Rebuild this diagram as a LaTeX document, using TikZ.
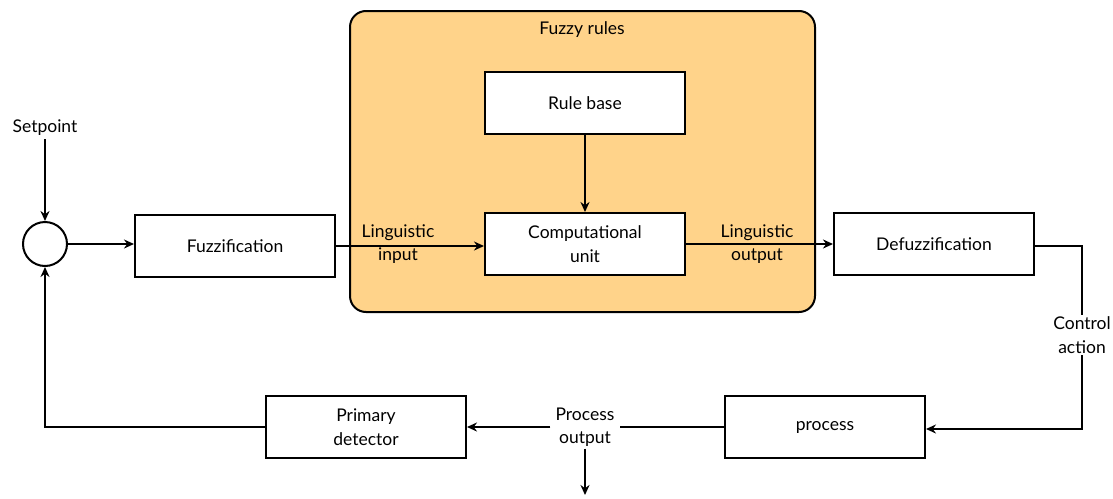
\documentclass[tikz,border=0pt]{standalone}
\usepackage{fontspec}
\setmainfont{Lato}
\usetikzlibrary{arrows.meta}
\definecolor{rulesfill}{HTML}{FFD38A}

\begin{document}
\begin{tikzpicture}[x=1pt,y=-1pt,
  every node/.style={font=\fontsize{17.5}{23.5}\selectfont, align=center},
  block/.style={draw, line width=2pt, fill=white, minimum width=200pt, minimum height=62pt, inner sep=0pt},
  conn/.style={line width=2pt, -{Stealth[length=10pt,width=9pt]}},
  wire/.style={line width=2pt},
  gaplabel/.style={fill=white, inner xsep=5pt, inner ysep=2pt}
]
\useasboundingbox (0,0) rectangle (1113,498);

% fuzzy rules container
\node[draw, line width=2pt, fill=rulesfill, rounded corners=16pt,
      minimum width=465pt, minimum height=301pt, inner sep=0pt] (rules) at (582.5,161.5) {};
\node (rulestitle) at (582,30) {Fuzzy rules};

% blocks
\node[circle, draw, line width=2pt, minimum size=44pt, inner sep=0pt] (sum) at (45,244) {};
\node[block] (fuzz) at (235,246) {Fuzzification};
\node[block] (rb) at (585,103) {Rule base};
\node[block] (cu) at (585,244) {Computational\\unit};
\node[block] (defuzz) at (934,244) {Defuzzification};
\node[block] (pd) at (366,427) {Primary\\detector};
\node[block] (proc) at (825,427) {process};

% free labels
\node (sp) at (45,128) {Setpoint};
\node (lin) at (398,244) {Linguistic\\input};
\node (lout) at (757,244) {Linguistic\\output};
\node[gaplabel] (ca) at (1082,335) {Control\\action};
\node[gaplabel] (po) at (585,427) {Process\\output};
\coordinate (out) at (585,495);

% connectors
\draw[conn] (sp) -- (sum);
\draw[conn] (sum.east) -- (sum.east -| fuzz.west);
\draw[conn] (fuzz.east) -- (fuzz.east -| cu.west);
\draw[conn] (rb) -- (cu);
\draw[conn] (cu.east) -- (cu.east -| defuzz.west);
\draw[wire] ([yshift=-2pt]defuzz.east) -| (ca.north);
\draw[conn] (ca.south) |- ([yshift=-2pt]proc.east);
\draw[wire] (proc.west) -- (po.east);
\draw[conn] (po.west) -- (pd.east);
\draw[conn] (po.south) -- (out);
\draw[conn] (pd.west) -| (sum.south);
\end{tikzpicture}
\end{document}
